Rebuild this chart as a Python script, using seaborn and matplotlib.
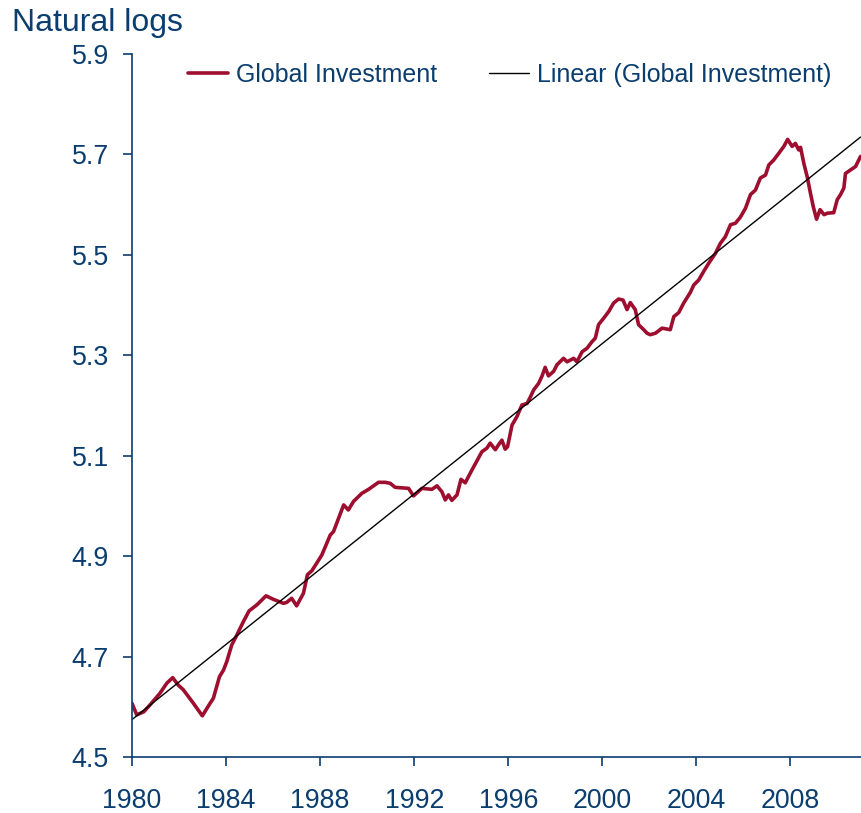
import numpy as np
import pandas as pd
import matplotlib
matplotlib.use("Agg")
import matplotlib.pyplot as plt
import seaborn as sns

# time (decimal years) and natural log of global investment
years = [1980.00, 1980.20, 1980.50, 1980.77, 1981.19, 1981.48, 1981.73, 1981.97,
         1982.18, 1982.61, 1982.99, 1983.32, 1983.46, 1983.72, 1983.89, 1984.03,
         1984.24, 1984.46, 1984.74, 1984.98, 1985.31, 1985.70, 1986.01, 1986.44,
         1986.58, 1986.79, 1987.00, 1987.29, 1987.46, 1987.65, 1988.07, 1988.43,
         1988.57, 1989.00, 1989.20, 1989.42, 1989.77, 1990.06, 1990.48, 1990.77,
         1990.98, 1991.19, 1991.76, 1991.97, 1992.33, 1992.75, 1992.97, 1993.18,
         1993.32, 1993.46, 1993.60, 1993.82, 1993.99, 1994.17, 1994.46, 1994.88,
         1995.09, 1995.23, 1995.45, 1995.59, 1995.73, 1995.87, 1995.97, 1996.16,
         1996.37, 1996.58, 1996.80, 1996.94, 1997.08, 1997.29, 1997.43, 1997.57,
         1997.71, 1997.93, 1998.07, 1998.35, 1998.50, 1998.78, 1998.92, 1999.14,
         1999.35, 1999.56, 1999.70, 1999.84, 2000.06, 2000.27, 2000.48, 2000.69,
         2000.88, 2001.05, 2001.19, 2001.40, 2001.54, 2001.76, 2001.90, 2002.04,
         2002.26, 2002.54, 2002.89, 2003.04, 2003.25, 2003.46, 2003.74, 2003.89,
         2004.10, 2004.31, 2004.52, 2004.81, 2005.02, 2005.23, 2005.45, 2005.66,
         2005.87, 2006.09, 2006.30, 2006.51, 2006.72, 2006.94, 2007.08, 2007.29,
         2007.50, 2007.72, 2007.88, 2008.07, 2008.21, 2008.35, 2008.43, 2008.57,
         2008.71, 2008.85, 2008.97, 2009.11, 2009.26, 2009.43, 2009.57, 2009.84,
         2009.99, 2010.13, 2010.27, 2010.34, 2010.55, 2010.77, 2010.98]
invest = [4.607, 4.584, 4.590, 4.604, 4.627, 4.647, 4.658, 4.643,
          4.634, 4.607, 4.582, 4.607, 4.617, 4.660, 4.673, 4.690,
          4.723, 4.743, 4.770, 4.791, 4.803, 4.821, 4.814, 4.806,
          4.808, 4.816, 4.801, 4.826, 4.863, 4.871, 4.902, 4.942,
          4.949, 5.002, 4.992, 5.009, 5.025, 5.033, 5.047, 5.047,
          5.045, 5.037, 5.035, 5.020, 5.035, 5.033, 5.040, 5.028,
          5.012, 5.022, 5.011, 5.022, 5.053, 5.046, 5.072, 5.108,
          5.115, 5.125, 5.112, 5.122, 5.131, 5.113, 5.118, 5.161,
          5.178, 5.201, 5.204, 5.217, 5.231, 5.244, 5.258, 5.276,
          5.259, 5.268, 5.281, 5.294, 5.287, 5.294, 5.287, 5.307,
          5.314, 5.327, 5.334, 5.361, 5.374, 5.387, 5.404, 5.412,
          5.410, 5.391, 5.405, 5.391, 5.361, 5.351, 5.344, 5.341,
          5.344, 5.354, 5.351, 5.377, 5.385, 5.404, 5.425, 5.440,
          5.450, 5.467, 5.483, 5.503, 5.523, 5.536, 5.560, 5.563,
          5.575, 5.593, 5.620, 5.629, 5.653, 5.659, 5.679, 5.689,
          5.702, 5.716, 5.730, 5.716, 5.722, 5.709, 5.714, 5.682,
          5.656, 5.623, 5.596, 5.571, 5.590, 5.580, 5.583, 5.584,
          5.610, 5.620, 5.633, 5.662, 5.669, 5.676, 5.696]

x_ticks = [1980, 1984, 1988, 1992, 1996, 2000, 2004, 2008]
y_ticks = [4.5, 4.7, 4.9, 5.1, 5.3, 5.5, 5.7, 5.9]

navy = "#0B3D6E"
red = "#9E0E2F"

sns.set_theme(style="white")
plt.rcParams["font.family"] = ["Liberation Sans", "DejaVu Sans"]

df = pd.DataFrame({"year": years, "value": invest})

fig = plt.figure(figsize=(8.61, 8.13), dpi=100)
ax = fig.add_axes([132 / 861, 1 - 757 / 813, 1 - 132 / 861, (757 - 54) / 813])

sns.lineplot(data=df, x="year", y="value", ax=ax, color=red, linewidth=2.6,
             label="Global Investment")
# Excel-style linear trendline
sns.regplot(data=df, x="year", y="value", ax=ax, scatter=False, ci=None,
            color="black", line_kws={"linewidth": 1.0},
            label="Linear (Global Investment)")

ax.set_xlim(1980, 2011)
ax.set_ylim(4.5, 5.9)
ax.set_xticks(x_ticks)
ax.set_yticks(y_ticks)
ax.set_yticklabels([f"{v:.1f}" for v in y_ticks])
ax.set_xlabel("")
ax.set_ylabel("")

for side in ["top", "right"]:
    ax.spines[side].set_visible(False)
for side in ["left", "bottom"]:
    ax.spines[side].set_color(navy)
    ax.spines[side].set_linewidth(1.2)
ax.tick_params(axis="both", direction="out", length=6.5, width=1.2, color=navy,
               labelcolor=navy, labelsize=19.3, bottom=True, left=True)
ax.tick_params(axis="x", pad=16)
ax.tick_params(axis="y", pad=10)

handles, labels = ax.get_legend_handles_labels()
ax.legend(handles, labels, ncol=2, frameon=False, loc="center left",
          bbox_to_anchor=(188 / 861, 1 - 75 / 813), bbox_transform=fig.transFigure,
          fontsize=18, labelcolor=navy, handlelength=1.6, handletextpad=0.3,
          columnspacing=2.1, borderpad=0, borderaxespad=0)

fig.text(12 / 861, 1 - 8 / 813, "Natural logs", color=navy, fontsize=23,
         ha="left", va="top")

fig.savefig("out.png", dpi=100)
